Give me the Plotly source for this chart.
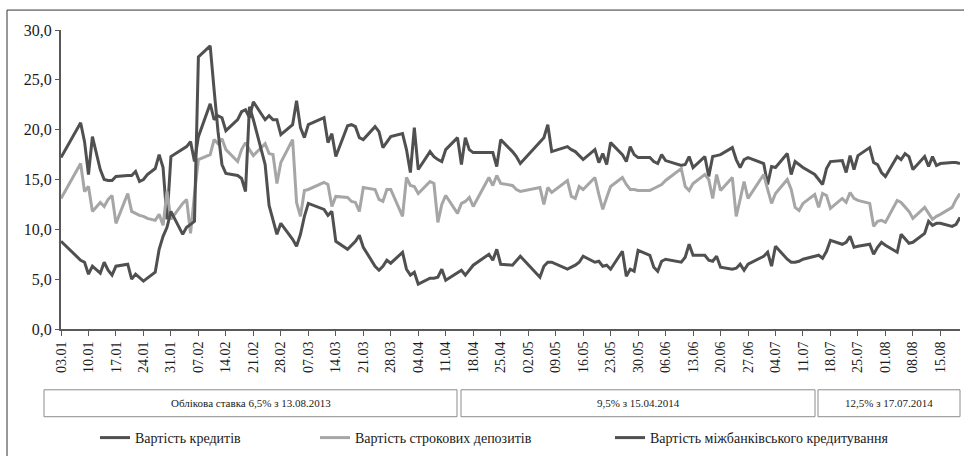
import plotly.graph_objects as go
import pandas as pd

# Working days (dd.mm, 2014)
dates = [
    "03.01", "08.01", "09.01", "10.01", "11.01", "13.01", "14.01", "15.01", "16.01", "17.01",
    "20.01", "21.01", "22.01", "23.01", "24.01", "25.01", "27.01", "28.01", "29.01", "30.01", "31.01",
    "03.02", "04.02", "05.02", "06.02", "07.02", "10.02", "11.02", "12.02", "13.02", "14.02",
    "17.02", "18.02", "19.02", "20.02", "21.02", "24.02", "25.02", "26.02", "27.02", "28.02",
    "03.03", "04.03", "05.03", "06.03", "07.03", "11.03", "12.03", "13.03", "14.03",
    "17.03", "18.03", "19.03", "20.03", "21.03", "24.03", "25.03", "26.03", "27.03", "28.03",
    "31.03", "01.04", "02.04", "03.04", "04.04", "07.04", "08.04", "09.04", "10.04", "11.04",
    "14.04", "15.04", "16.04", "17.04", "18.04", "22.04", "23.04", "24.04", "25.04",
    "28.04", "29.04", "30.04", "05.05", "06.05", "07.05", "08.05",
    "12.05", "13.05", "14.05", "15.05", "16.05", "19.05", "20.05", "21.05", "22.05", "23.05",
    "26.05", "27.05", "28.05", "29.05", "30.05", "02.06", "03.06", "04.06", "05.06", "06.06",
    "10.06", "11.06", "12.06", "13.06", "16.06", "17.06", "18.06", "19.06", "20.06",
    "23.06", "24.06", "25.06", "26.06", "27.06", "01.07", "02.07", "03.07", "04.07",
    "07.07", "08.07", "09.07", "10.07", "11.07", "14.07", "15.07", "16.07", "17.07", "18.07",
    "21.07", "22.07", "23.07", "24.07", "25.07", "28.07", "29.07", "30.07", "31.07", "01.08",
    "04.08", "05.08", "06.08", "07.08", "08.08", "11.08", "12.08", "13.08", "14.08", "15.08",
    "18.08", "19.08", "20.08",
]

credits = [
    17.2, 20.7, 18.8, 15.5, 19.3, 16.0, 15.0, 14.9, 14.9, 15.3,
    15.4, 15.4, 15.8, 14.8, 15.0, 15.5, 16.1, 17.5, 16.2, 11.0, 17.3,
    18.0, 18.3, 18.8, 16.8, 19.3, 22.6, 21.0, 21.4, 21.2, 19.9,
    21.0, 21.8, 22.0, 21.2, 22.8, 21.0, 21.4, 21.0, 21.0, 19.5,
    20.5, 22.9, 20.2, 19.2, 20.5, 21.2, 18.7, 19.6, 17.3,
    20.4, 20.5, 20.3, 19.2, 19.0, 20.3, 19.8, 18.2, 18.8, 19.3,
    19.6, 18.0, 15.7, 20.2, 16.0, 17.8, 17.3, 17.0, 16.8, 18.0,
    19.2, 16.5, 19.2, 18.0, 17.7, 17.7, 17.7, 16.3, 19.0,
    17.8, 17.3, 16.6, 18.8, 19.2, 20.5, 17.8,
    18.3, 18.0, 17.8, 17.4, 17.0, 18.0, 16.7, 17.6, 16.5, 18.7,
    17.5, 16.8, 18.3, 17.5, 17.2, 17.2, 16.8, 16.6, 17.5, 16.9,
    16.4, 16.5, 17.3, 16.2, 17.3, 15.3, 17.3, 17.4, 17.5,
    18.2, 17.0, 16.2, 17.0, 17.2, 16.6, 14.5, 16.3, 16.2,
    17.6, 15.5, 16.8, 16.5, 16.2, 15.5, 15.0, 14.5, 16.1, 16.8,
    16.9, 15.7, 17.4, 16.0, 17.4, 18.2, 16.7, 16.5, 15.7, 15.3,
    17.3, 17.0, 17.6, 17.3, 16.0, 17.3, 16.3, 17.3, 16.4, 16.6,
    16.7, 16.7, 16.6,
]

deposits = [
    13.1, 16.6, 13.8, 14.3, 11.8, 12.7, 12.3, 13.0, 13.4, 10.6,
    13.6, 11.8, 11.6, 11.4, 11.3, 11.1, 10.9, 11.5, 10.4, 13.8, 11.0,
    12.6, 13.0, 9.6, 13.5, 17.0, 17.5, 19.0, 18.6, 19.1, 18.0,
    16.8, 18.0, 18.7, 18.0, 17.4, 18.6, 17.6, 17.5, 14.6, 16.7,
    19.0, 12.7, 11.3, 13.9, 14.0, 14.7, 14.5, 12.3, 13.3,
    13.2, 12.8, 12.7, 11.8, 14.2, 14.0, 13.0, 12.8, 14.0, 14.0,
    11.3, 15.2, 14.4, 14.3, 13.6, 14.8, 14.6, 10.7, 12.5, 13.4,
    11.6, 12.6, 12.8, 13.2, 12.3, 15.2, 14.4, 15.4, 14.6,
    14.4, 14.0, 13.8, 14.2, 12.5, 14.2, 13.7,
    14.9, 13.3, 13.1, 14.3, 14.0, 15.2, 13.5, 12.0, 13.2, 14.3,
    15.2, 14.5, 14.0, 14.0, 13.9, 13.9, 14.1, 14.3, 14.5, 14.9,
    16.1, 14.3, 13.9, 14.6, 15.5, 15.0, 13.1, 15.5, 13.9,
    15.2, 11.3, 13.0, 14.8, 13.1, 15.5, 14.0, 12.6, 13.6,
    15.0, 14.0, 12.2, 11.9, 12.6, 13.5, 12.2, 13.6, 13.4, 12.1,
    13.1, 12.7, 13.7, 13.1, 12.9, 12.6, 10.3, 10.8, 10.9, 10.7,
    12.9, 12.7, 12.2, 11.8, 11.1, 12.2, 11.6, 11.0, 11.3, 11.5,
    12.2, 13.0, 13.6,
]

interbank = [
    8.8, 6.9, 6.7, 5.5, 6.3, 5.6, 6.7, 5.9, 5.4, 6.3,
    6.5, 5.0, 5.5, 5.1, 4.8, 5.1, 5.7, 8.0, 9.3, 10.2, 11.8,
    9.5, 10.2, 10.5, 10.8, 27.3, 28.4, 24.0, 19.8, 16.5, 15.6,
    15.4, 15.1, 13.8, 22.3, 21.0, 16.5, 12.4, 11.0, 9.5, 10.6,
    9.0, 8.3, 9.5, 11.3, 12.6, 12.0, 11.4, 11.8, 8.8,
    8.0, 8.4, 8.8, 9.4, 8.2, 6.3, 5.9, 6.3, 6.9, 6.6,
    7.7, 6.0, 5.4, 5.7, 4.5, 5.1, 5.1, 5.2, 6.0, 4.9,
    5.6, 5.9, 5.4, 5.9, 6.4, 7.5, 6.9, 8.0, 6.5,
    6.4, 6.8, 7.3, 5.2, 6.3, 6.7, 6.7,
    6.0, 6.2, 6.4, 6.7, 7.3, 6.7, 6.8, 6.3, 6.4, 6.0,
    7.8, 5.3, 6.0, 5.8, 7.9, 7.4, 6.2, 5.8, 6.8, 7.0,
    6.7, 7.2, 8.5, 7.4, 7.4, 6.9, 6.8, 7.3, 6.2,
    6.0, 6.1, 6.5, 5.9, 6.5, 7.3, 7.7, 6.3, 8.3,
    7.0, 6.7, 6.7, 6.8, 7.0, 7.3, 7.4, 7.1, 7.8, 8.9,
    8.5, 8.7, 9.3, 8.2, 8.3, 8.5, 7.5, 8.2, 8.7, 8.4,
    7.7, 9.5, 9.0, 8.6, 8.7, 9.6, 10.8, 10.4, 10.6, 10.6,
    10.3, 10.5, 11.2,
]

series_names = [
    "Вартість кредитів",
    "Вартість строкових депозитів",
    "Вартість міжбанківського кредитування",
]
period_labels = [
    "Облікова ставка 6,5% з 13.08.2013",
    "9,5% з 15.04.2014",
    "12,5% з 17.07.2014",
]

x = pd.to_datetime([d + ".2014" for d in dates], format="%d.%m.%Y")

DARK = "#505050"
LIGHT = "#a6a6a6"
FONT = "Liberation Serif"

fig = go.Figure()
fig.add_trace(go.Scatter(x=x, y=credits, mode="lines", name=series_names[0],
                         line=dict(color=DARK, width=3), legend="legend"))
fig.add_trace(go.Scatter(x=x, y=deposits, mode="lines", name=series_names[1],
                         line=dict(color=LIGHT, width=3), legend="legend2"))
fig.add_trace(go.Scatter(x=x, y=interbank, mode="lines", name=series_names[2],
                         line=dict(color=DARK, width=3), legend="legend3"))

# plot area: x 61..960 px, y 30..330 px
def px_x(p):
    return (p - 61) / 899.0

def px_y(p):
    return (330 - p) / 300.0

shapes = []
# outer frame
shapes.append(dict(type="rect", xref="paper", yref="paper",
                   x0=px_x(7), x1=px_x(966), y0=px_y(458), y1=px_y(10),
                   line=dict(color="#333333", width=1), fillcolor="rgba(0,0,0,0)", layer="below"))
boxes = [(44, 457), (461, 815), (818, 960)]
annotations = []
for (a, b), lab in zip(boxes, period_labels):
    shapes.append(dict(type="rect", xref="paper", yref="paper",
                       x0=px_x(a), x1=px_x(b), y0=px_y(418), y1=px_y(391),
                       line=dict(color="#8c8c8c", width=1), fillcolor="rgba(0,0,0,0)"))
    annotations.append(dict(xref="paper", yref="paper", x=px_x((a + b) / 2), y=px_y(404.5),
                            text=lab, showarrow=False, xanchor="center", yanchor="middle",
                            font=dict(family=FONT, size=11, color="#1a1a1a")))

legend_common = dict(orientation="h", yanchor="middle", xanchor="left",
                     font=dict(family=FONT, size=14, color="#1a1a1a"),
                     bgcolor="rgba(0,0,0,0)", borderwidth=0)

fig.update_layout(
    width=964, height=456,
    margin=dict(l=61, r=4, t=30, b=126),
    paper_bgcolor="white", plot_bgcolor="white",
    separators=", ",
    font=dict(family=FONT, size=14, color="#1a1a1a"),
    showlegend=True,
    legend=dict(x=px_x(95), y=px_y(438), **legend_common),
    legend2=dict(x=px_x(315), y=px_y(438), **legend_common),
    legend3=dict(x=px_x(610), y=px_y(438), **legend_common),
    shapes=shapes,
    annotations=annotations,
    xaxis=dict(
        type="date",
        range=["2014-01-03", "2014-08-20"],
        tick0="2014-01-03", dtick=7 * 24 * 3600 * 1000,
        tickformat="%d.%m", tickangle=-90,
        ticks="outside", ticklen=5, tickwidth=1, tickcolor="#595959",
        showline=True, linecolor="#595959", linewidth=2,
        showgrid=False, zeroline=False, automargin=False,
        tickfont=dict(family=FONT, size=14, color="#1a1a1a"),
    ),
    yaxis=dict(
        range=[0, 30], dtick=5, tick0=0, tickformat=".1f",
        ticks="outside", ticklen=4, tickwidth=1, tickcolor="#595959",
        showline=True, linecolor="#595959", linewidth=2,
        showgrid=False, zeroline=False, automargin=False,
        tickfont=dict(family=FONT, size=16, color="#1a1a1a"),
    ),
)

fig.write_html("out.html", config={"displayModeBar": False},
               post_script="document.body.style.margin='0';document.body.style.overflow='hidden';")
